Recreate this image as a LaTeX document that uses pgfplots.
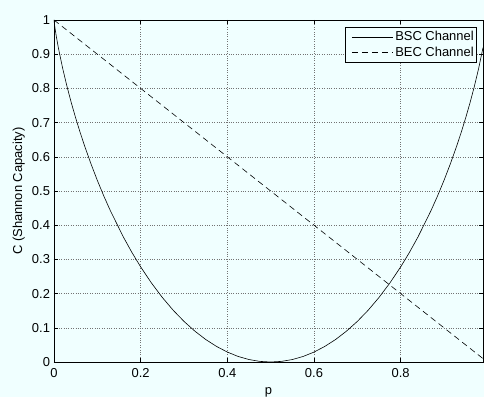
\documentclass[border=0pt]{standalone}
\usepackage{pgfplots}
\pgfplotsset{compat=1.18}
\usepackage{fontspec}
\setmainfont{Liberation Sans}
\definecolor{figbg}{RGB}{240,255,255}
\begin{document}
\begin{tikzpicture}
\fill[figbg] (-54bp,-35bp) rectangle (430bp,362bp);
\begin{axis}[
  at={(0,0)}, anchor=south west,
  scale only axis, width=429bp, height=342bp,
  xmin=0, xmax=0.99, ymin=0, ymax=1,
  xtick={0,0.2,0.4,0.6,0.8},
  ytick={0,0.1,...,1},
  yticklabels={0,0.1,0.2,0.3,0.4,0.5,0.6,0.7,0.8,0.9,1},
  xticklabels={0,0.2,0.4,0.6,0.8},
  tick align=inside, major tick length=4bp,
  tick style={black, line width=0.5pt},
  axis line style={line width=0.6pt},
  grid=major,
  major grid style={black!55, dotted, line width=0.5pt},
  axis background/.style={fill=figbg},
  ticklabel style={font=\fontsize{13}{15}\selectfont},
  xticklabel style={yshift=-2.5bp},
  yticklabel style={xshift=-0.5bp},
  label style={font=\fontsize{13}{15}\selectfont},
  xlabel={p}, ylabel={C (Shannon Capacity)},
  xlabel style={at={(axis description cs:0.5,0)}, anchor=base, yshift=-32bp},
  ylabel style={at={(axis description cs:-0.082,0.5)}, anchor=center},
  legend style={at={(axis description cs:0.986,0.98)}, anchor=north east,
    fill=figbg, draw=black, line width=0.5pt,
    font=\fontsize{13}{15}\selectfont, row sep=1.5bp,
    inner xsep=1bp, inner ysep=3bp,
    nodes={inner xsep=2bp, inner ysep=1.5bp}},
  legend cell align=left,
  legend image code/.code={\draw[draw=none] (0bp,0bp) -- (6bp,0bp); \draw[#1] (6bp,0bp) -- (47bp,0bp);},
]
% capacity of the binary symmetric channel
\addplot[black, line width=0.6pt] coordinates {
(0,1) (0.001,0.9886) (0.002,0.9792) (0.005,0.9546) (0.01,0.9192)
(0.02,0.8586) (0.03,0.8056) (0.04,0.7577) (0.05,0.7136) (0.06,0.6726)
(0.07,0.6341) (0.085,0.5805) (0.1,0.5310) (0.115,0.4852) (0.13,0.4426)
(0.16,0.3657) (0.18,0.3199) (0.2,0.2781) (0.225,0.2308) (0.25,0.1887)
(0.275,0.1514) (0.3,0.1187) (0.325,0.0903) (0.35,0.0659) (0.375,0.0456)
(0.4,0.0290) (0.425,0.0162) (0.45,0.0072) (0.475,0.0018) (0.5,0)
(0.525,0.0018) (0.55,0.0072) (0.575,0.0162) (0.6,0.0290) (0.625,0.0456)
(0.65,0.0659) (0.675,0.0903) (0.7,0.1187) (0.725,0.1514) (0.75,0.1887)
(0.775,0.2308) (0.8,0.2781) (0.82,0.3199) (0.84,0.3657) (0.87,0.4426)
(0.885,0.4852) (0.9,0.5310) (0.915,0.5805) (0.93,0.6341) (0.94,0.6726)
(0.95,0.7136) (0.96,0.7577) (0.97,0.8056) (0.98,0.8586) (0.99,0.9192)
};
\addlegendentry{BSC Channel}
% capacity of the binary erasure channel
\addplot[black, line width=0.6pt, dash pattern=on 6bp off 4bp] coordinates {
(0,1) (0.99,0.01)
};
\addlegendentry{BEC Channel}
\end{axis}
\pgfresetboundingbox
\useasboundingbox (-54bp,-35bp) rectangle (430bp,362bp);
\end{tikzpicture}
\end{document}
